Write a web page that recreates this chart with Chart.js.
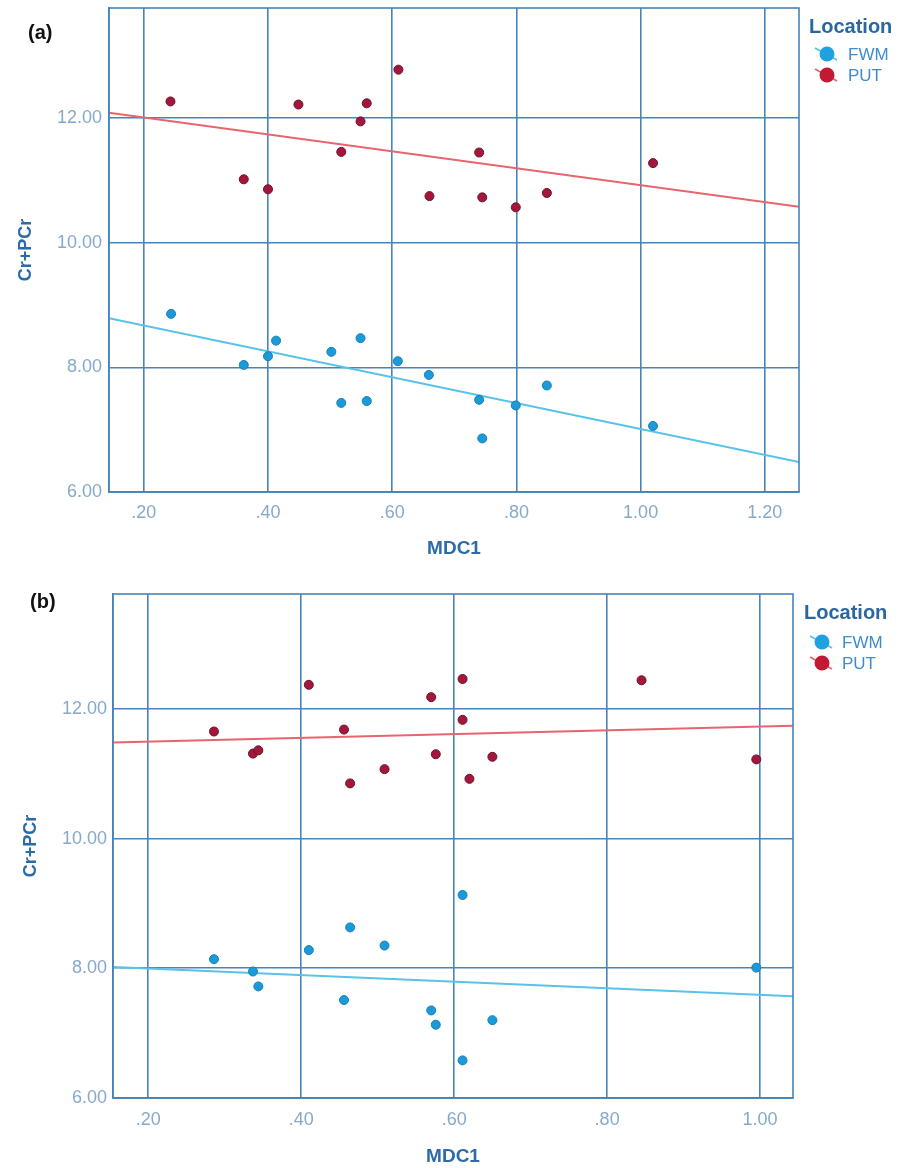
<!DOCTYPE html>
<html>
<head>
<meta charset="utf-8">
<script src="https://cdn.jsdelivr.net/npm/chart.js@4/dist/chart.umd.min.js"></script>
<style>
  html, body { margin: 0; padding: 0; background: #fff; }
  #wrap { position: relative; width: 907px; height: 1168px; }
  canvas { position: absolute; left: 0; }
  #chartA { top: 0; }
  #chartB { top: 580px; }
</style>
</head>
<body>
<div id="wrap">
  <canvas id="chartA" width="907" height="580"></canvas>
  <canvas id="chartB" width="907" height="588"></canvas>
</div>
<script>
// Daten Panel (a) -->
const mdcA_put = [0.243, 0.361, 0.400, 0.449, 0.518, 0.549, 0.559, 0.610, 0.660, 0.740, 0.745, 0.799, 0.849, 1.020];
const crA_put  = [12.27, 11.02, 10.86, 12.22, 11.46, 11.95, 12.24, 12.78, 10.75, 11.45, 10.73, 10.57, 10.80, 11.28];
const mdcA_fwm = [0.244, 0.361, 0.400, 0.413, 0.502, 0.518, 0.549, 0.559, 0.609, 0.659, 0.740, 0.745, 0.799, 0.849, 1.020];
const crA_fwm  = [8.86, 8.04, 8.18, 8.43, 8.25, 7.43, 8.47, 7.46, 8.10, 7.88, 7.48, 6.86, 7.39, 7.71, 7.06];
// Regressionslinien (a): Endpunkte am Rand
const fitA_x   = [0.144, 1.255];
const fitA_put = [12.09, 10.58];
const fitA_fwm = [8.79, 6.48];

// Daten Panel (b)
const mdcB_put = [0.286, 0.337, 0.344, 0.410, 0.456, 0.464, 0.509, 0.570, 0.576, 0.611, 0.611, 0.620, 0.650, 0.845, 0.995];
const crB_put  = [11.65, 11.31, 11.36, 12.37, 11.68, 10.85, 11.07, 12.18, 11.30, 12.46, 11.83, 10.92, 11.26, 12.44, 11.22];
const mdcB_fwm = [0.286, 0.337, 0.344, 0.410, 0.456, 0.464, 0.509, 0.570, 0.576, 0.611, 0.611, 0.650, 0.995];
const crB_fwm  = [8.14, 7.95, 7.72, 8.28, 7.51, 8.63, 8.35, 7.35, 7.13, 9.13, 6.58, 7.20, 8.01];
const fitB_x   = [0.154, 1.043];
const fitB_put = [11.48, 11.74];
const fitB_fwm = [8.02, 7.57];

// Achsen-Ticks
const xTicksA = [0.2, 0.4, 0.6, 0.8, 1.0, 1.2];
const xTicksB = [0.2, 0.4, 0.6, 0.8, 1.0];
const yTicks  = [6, 8, 10, 12];
const yMin = 6, yMax = 13.77;

const gruppen = ["FWM", "PUT"];

// Farben
const schrift = "'Liberation Sans', Arial, sans-serif";
const gridFarbe = "#4784b9";
const tickFarbe = "#86a9cb";
const titelFarbe = "#2b6ca8";
const fwmPunkt = "#1b9ad8";
const putPunkt = "#a3173d";
const fwmLinie = "#58c2e8";
const putLinie = "#e8646f";

function zuPunkten(xs, ys) {
    return xs.map((x, i) => ({ x: x, y: ys[i] }));
}

// SPSS Format: .20 statt 0.20
function tickText(v) {
    const s = Number(v).toFixed(2);
    return v < 1 ? s.replace(/^0/, "") : s;
}

// Rahmen, Panel-Buchstabe und Legende selbst zeichnen
const rahmenUndLegende = {
    id: "rahmenUndLegende",
    afterDraw(chart, args, opts) {
        const ctx = chart.ctx;
        const ca = chart.chartArea;
        ctx.save();
        ctx.strokeStyle = gridFarbe;
        ctx.lineWidth = 1.6;
        ctx.strokeRect(ca.left, ca.top, ca.right - ca.left, ca.bottom - ca.top);

        ctx.textBaseline = "middle";
        ctx.textAlign = "left";
        ctx.fillStyle = "#111";
        ctx.font = "bold 20px " + schrift;
        ctx.fillText(opts.panel, opts.panelX, opts.panelY);

        const L = opts.legende;
        ctx.fillStyle = "#2a67a0";
        ctx.font = "bold 20px " + schrift;
        ctx.fillText("Location", L.x, L.y);

        const eintraege = [
            { text: gruppen[0], punkt: "#1ea2e2", linie: fwmLinie, dy: L.dy1 },
            { text: gruppen[1], punkt: "#c21a32", linie: putLinie, dy: L.dy2 }
        ];
        eintraege.forEach(e => {
            const cx = L.iconX, cy = L.y + e.dy;
            ctx.strokeStyle = e.linie;
            ctx.lineWidth = 1.8;
            ctx.beginPath();
            ctx.moveTo(cx - 12, cy - 6);
            ctx.lineTo(cx + 10, cy + 6);
            ctx.stroke();
            ctx.fillStyle = e.punkt;
            ctx.beginPath();
            ctx.arc(cx, cy, 7.5, 0, Math.PI * 2);
            ctx.fill();
            ctx.fillStyle = "#3f8ccd";
            ctx.font = "17px " + schrift;
            ctx.fillText(e.text, L.textX, cy + 1);
        });
        ctx.restore();
    }
};

function baueChart(id, p) {
    const ctx = document.getElementById(id).getContext("2d");
    return new Chart(ctx, {
        type: "scatter",
        data: {
            datasets: [
                {
                    label: "FWM",
                    data: zuPunkten(p.fwmX, p.fwmY),
                    backgroundColor: fwmPunkt,
                    borderColor: "#1580bb",
                    borderWidth: 1,
                    pointRadius: 4.5,
                    order: 0
                },
                {
                    label: "PUT",
                    data: zuPunkten(p.putX, p.putY),
                    backgroundColor: putPunkt,
                    borderColor: "#6e0f2a",
                    borderWidth: 1,
                    pointRadius: 4.5,
                    order: 0
                },
                {
                    type: "line",
                    label: "FWM fit",
                    data: zuPunkten(p.fitX, p.fitFwm),
                    borderColor: fwmLinie,
                    borderWidth: 2,
                    pointRadius: 0,
                    fill: false,
                    order: 1
                },
                {
                    type: "line",
                    label: "PUT fit",
                    data: zuPunkten(p.fitX, p.fitPut),
                    borderColor: putLinie,
                    borderWidth: 2,
                    pointRadius: 0,
                    fill: false,
                    order: 1
                }
            ]
        },
        options: {
            responsive: false,
            animation: false,
            devicePixelRatio: 1,
            layout: { padding: { left: 0, right: p.rechts, top: p.oben, bottom: 0 } },
            plugins: {
                legend: { display: false },
                tooltip: { enabled: false },
                rahmenUndLegende: p.deko
            },
            scales: {
                x: {
                    type: "linear",
                    min: p.xMin,
                    max: p.xMax,
                    afterBuildTicks: s => { s.ticks = p.xTicks.map(v => ({ value: v })); },
                    afterFit: s => { s.height = p.xHoehe; s.paddingLeft = 0; s.paddingRight = 0; },
                    grid: { color: gridFarbe, lineWidth: 1.6, drawTicks: false },
                    border: { color: gridFarbe, width: 1.6 },
                    ticks: {
                        padding: p.xPad,
                        color: tickFarbe,
                        font: { family: schrift, size: 18 },
                        maxRotation: 0,
                        callback: v => tickText(v)
                    },
                    title: {
                        display: true,
                        text: "MDC1",
                        color: titelFarbe,
                        font: { family: schrift, size: 19, weight: "bold" },
                        padding: { top: 0, bottom: p.xTitelPad }
                    }
                },
                y: {
                    type: "linear",
                    min: yMin,
                    max: yMax,
                    afterBuildTicks: s => { s.ticks = yTicks.map(v => ({ value: v })); },
                    // label-padding weg, sonst rutscht der plot nach unten
                    afterFit: s => { s.width = p.yBreite; s.paddingTop = 0; s.paddingBottom = 0; },
                    grid: { color: gridFarbe, lineWidth: 1.6, drawTicks: false },
                    border: { color: gridFarbe, width: 1.6 },
                    ticks: {
                        padding: p.yPad,
                        color: tickFarbe,
                        font: { family: schrift, size: 18 },
                        callback: v => tickText(v)
                    },
                    title: {
                        display: true,
                        text: "Cr+PCr",
                        color: titelFarbe,
                        font: { family: schrift, size: 18, weight: "bold" },
                        padding: { top: p.yTitelPad, bottom: 0 }
                    }
                }
            }
        },
        plugins: [rahmenUndLegende]
    });
}

baueChart("chartA", {
    fwmX: mdcA_fwm, fwmY: crA_fwm, putX: mdcA_put, putY: crA_put,
    fitX: fitA_x, fitFwm: fitA_fwm, fitPut: fitA_put,
    xTicks: xTicksA, xMin: fitA_x[0], xMax: fitA_x[1],
    rechts: 108, oben: 8, xHoehe: 88, yBreite: 109,
    xPad: 10, yPad: 7, xTitelPad: 20, yTitelPad: 15,
    deko: {
        panel: "(a)", panelX: 28, panelY: 33,
        legende: { x: 809, y: 27, iconX: 827, textX: 848, dy1: 27, dy2: 48 }
    }
});

baueChart("chartB", {
    fwmX: mdcB_fwm, fwmY: crB_fwm, putX: mdcB_put, putY: crB_put,
    fitX: fitB_x, fitFwm: fitB_fwm, fitPut: fitB_put,
    xTicks: xTicksB, xMin: fitB_x[0], xMax: fitB_x[1],
    rechts: 114, oben: 14, xHoehe: 70, yBreite: 113,
    xPad: 11, yPad: 6, xTitelPad: 0, yTitelPad: 20,
    deko: {
        panel: "(b)", panelX: 30, panelY: 22,
        legende: { x: 804, y: 33, iconX: 822, textX: 842, dy1: 29, dy2: 50 }
    }
});
</script>
</body>
</html>
